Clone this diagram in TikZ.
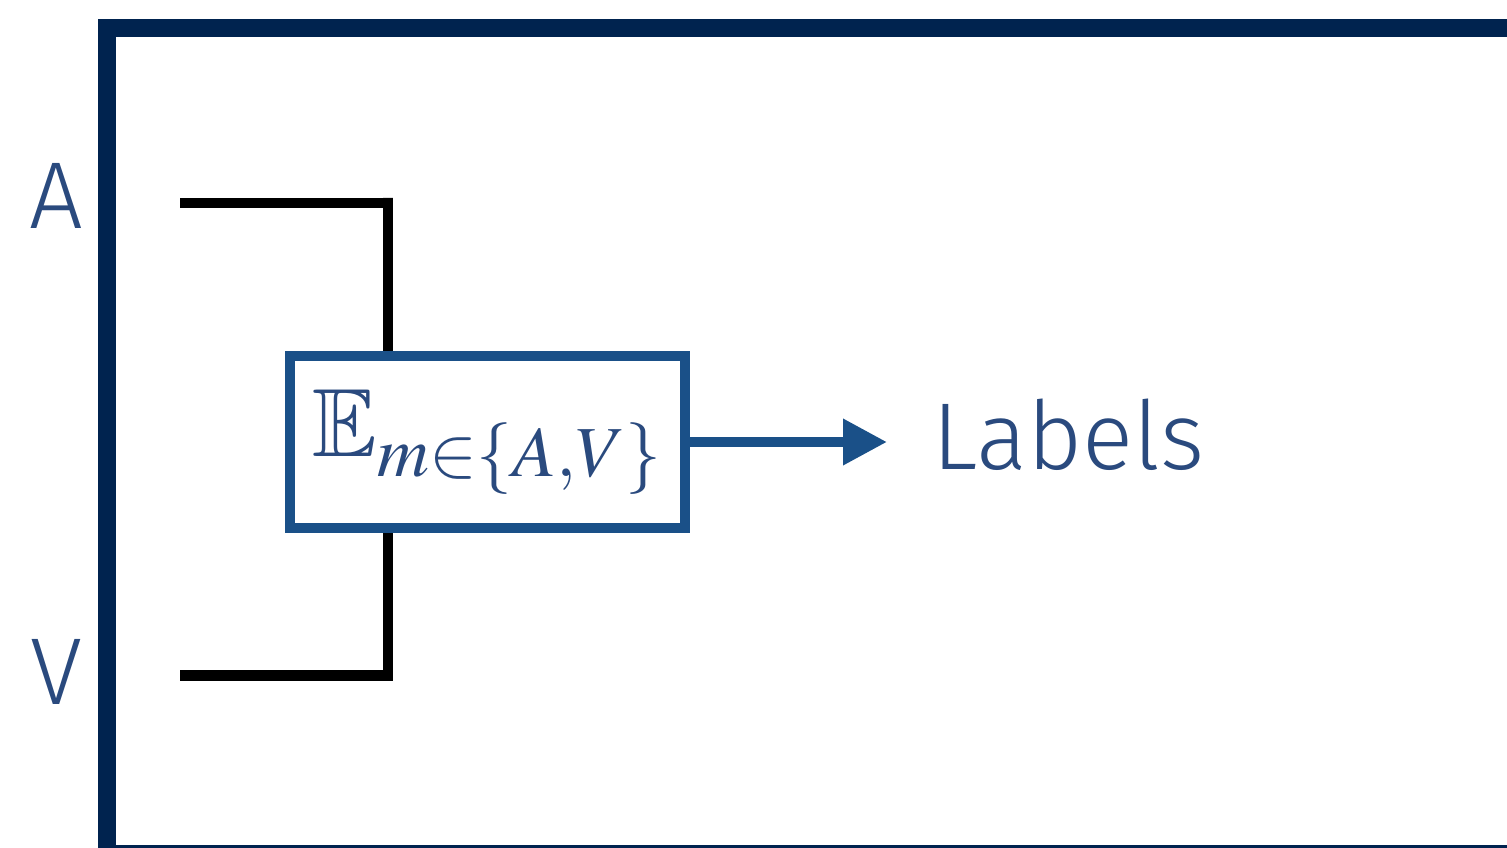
\documentclass[tikz,border=0pt]{standalone}
\usepackage{mathptmx}
\usepackage{amssymb}
\usepackage[no-math]{fontspec}
\newfontfamily\labelfont{Fira Sans Light}
\usetikzlibrary{arrows.meta,positioning}
\definecolor{fuseNavy}{HTML}{00234F}
\definecolor{fuseBlue}{HTML}{1A5088}
\definecolor{fuseInk}{HTML}{2A4A7E}
\tikzset{
    >=Latex,
    frameline/.style={draw=fuseNavy, line width=18pt},
    modality/.style={font=\labelfont\fontsize{95}{100}\selectfont, text=fuseInk, inner sep=0pt},
    fusebox/.style={draw=fuseBlue, line width=10pt, minimum width=395pt, minimum height=172pt, inner sep=0pt, text=fuseInk, font=\fontsize{97}{104}\selectfont},
    bracket/.style={draw=black, line width=10.5pt},
    flowarrow/.style={-{Triangle[length=44pt,width=44pt]}, line width=10pt, draw=fuseBlue}
}
\begin{document}
\begin{tikzpicture}[x=1pt, y=-1pt]
    \useasboundingbox (0,0) rectangle (1507,848);
    \clip (0,0) rectangle (1507,848);
    % outer frame, running off the right and bottom edges
    \draw[frameline] (107,28) rectangle (1540,854);
    \node[modality] (modA) at (56,196) {A};
    \node[modality] (modV) at (56,672) {V};
    \node[fusebox] (exp) at (487.5,442) {$\mathbb{E}_{m\in\{A,V\}}$};
    \node[modality, right=242pt of exp, yshift=7pt] (out) {Labels};
    % inputs joining the expectation box
    \coordinate (aStart) at (180,203);
    \coordinate (aJoin) at (388,203);
    \coordinate (vStart) at (180,675.5);
    \coordinate (vJoin) at (388,675.5);
    \draw[bracket] (aStart) -- (aJoin) -- ([yshift=5.25pt]aJoin) -- (aJoin |- exp.north);
    \draw[bracket] (vStart) -- (vJoin);
    \draw[bracket] ([yshift=-5.25pt]vJoin) -- (vJoin |- exp.south);
    \draw[flowarrow, shorten >=45pt] (exp.east) -- (exp.east -| out.west);
\end{tikzpicture}
\end{document}
